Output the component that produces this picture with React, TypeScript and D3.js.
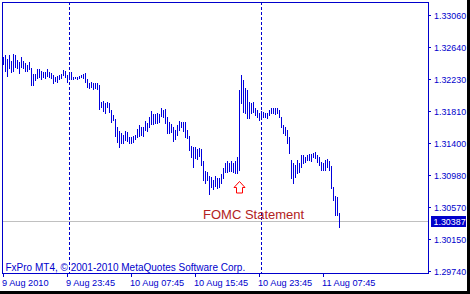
import React from "react";
import * as d3 from "d3";

// ---- data (EURUSD M15, 9 Aug 2010 15:45 -> 11 Aug 2010 09:45) ----
const highs: number[] = [
  1.32514, 1.3254, 1.32488, 1.3254, 1.32462, 1.32553, 1.3254, 1.32475, 1.32449, 1.32514,
  1.32462, 1.32436, 1.3241, 1.32449, 1.32371, 1.32293, 1.32293, 1.32358, 1.32358, 1.32332,
  1.32319, 1.32319, 1.32358, 1.32319, 1.32306, 1.3228, 1.32254, 1.32267, 1.3228, 1.32293,
  1.32345, 1.32332, 1.3228, 1.32306, 1.32319, 1.32254, 1.32254, 1.32254, 1.32267, 1.3228,
  1.32293, 1.32306, 1.32228, 1.32176, 1.32189, 1.32176, 1.32176, 1.32176, 1.3215, 1.31929,
  1.31942, 1.31916, 1.31929, 1.31916, 1.31825, 1.3176, 1.31708, 1.31604, 1.31552, 1.31526,
  1.315, 1.31552, 1.31539, 1.31474, 1.31474, 1.31487, 1.315, 1.31578, 1.3163, 1.31604,
  1.31604, 1.31682, 1.31656, 1.31734, 1.31812, 1.31773, 1.31773, 1.31786, 1.31773, 1.31851,
  1.31825, 1.31838, 1.31734, 1.31669, 1.31643, 1.31604, 1.31565, 1.3163, 1.31682, 1.31669,
  1.31669, 1.31669, 1.31565, 1.31487, 1.31357, 1.31344, 1.31344, 1.31318, 1.31331, 1.31318,
  1.31162, 1.31032, 1.31019, 1.30967, 1.30954, 1.30915, 1.30967, 1.30941, 1.30941, 1.30993,
  1.31071, 1.31136, 1.31162, 1.31136, 1.31162, 1.31136, 1.31162, 1.31214, 1.32085, 1.3228,
  1.32215, 1.32111, 1.32085, 1.31929, 1.31916, 1.31929, 1.31851, 1.31825, 1.31786, 1.31812,
  1.31799, 1.31786, 1.31786, 1.31825, 1.31851, 1.31851, 1.31851, 1.31851, 1.31825, 1.31734,
  1.3163, 1.31604, 1.31565, 1.31474, 1.31175, 1.31136, 1.3111, 1.31175, 1.31136, 1.3124,
  1.3124, 1.31214, 1.3124, 1.31253, 1.31253, 1.31266, 1.31279, 1.3124, 1.31214, 1.31149,
  1.31136, 1.31175, 1.31188, 1.31162, 1.31097, 1.30824, 1.30707, 1.30694, 1.30486,
];
const lows: number[] = [
  1.32423, 1.32332, 1.32267, 1.32371, 1.32319, 1.32332, 1.32384, 1.32371, 1.32306, 1.32384,
  1.32371, 1.32332, 1.32332, 1.32358, 1.3215, 1.3215, 1.32215, 1.32241, 1.32254, 1.32228,
  1.32254, 1.32241, 1.32267, 1.32254, 1.32241, 1.32176, 1.32202, 1.32189, 1.32228, 1.32241,
  1.3228, 1.32254, 1.32189, 1.32228, 1.32228, 1.32228, 1.32241, 1.32228, 1.32241, 1.32254,
  1.32241, 1.32189, 1.32124, 1.32111, 1.32124, 1.32098, 1.32111, 1.32098, 1.31838, 1.31864,
  1.31812, 1.31786, 1.31864, 1.31799, 1.31669, 1.31695, 1.31487, 1.31409, 1.31344, 1.31396,
  1.31396, 1.31435, 1.31422, 1.31396, 1.31396, 1.31409, 1.31448, 1.31474, 1.31487, 1.315,
  1.31487, 1.31565, 1.31552, 1.31604, 1.31643, 1.31643, 1.31656, 1.31656, 1.31669, 1.31747,
  1.31734, 1.31656, 1.31526, 1.31526, 1.31539, 1.31422, 1.31448, 1.315, 1.31565, 1.31604,
  1.31552, 1.31474, 1.31461, 1.31305, 1.31214, 1.31084, 1.31201, 1.31188, 1.31227, 1.3111,
  1.30915, 1.30876, 1.30915, 1.30733, 1.30824, 1.30798, 1.30837, 1.30811, 1.30824, 1.30876,
  1.30941, 1.31019, 1.31019, 1.31032, 1.31032, 1.31019, 1.31006, 1.31006, 1.31045, 1.31916,
  1.31799, 1.31786, 1.31721, 1.31721, 1.31786, 1.31799, 1.3176, 1.31734, 1.31695, 1.31734,
  1.31734, 1.31734, 1.31721, 1.3176, 1.31786, 1.31786, 1.31773, 1.31786, 1.31734, 1.31604,
  1.31526, 1.315, 1.31396, 1.31266, 1.30941, 1.30876, 1.30954, 1.31006, 1.31019, 1.31084,
  1.31136, 1.31149, 1.31175, 1.31175, 1.31162, 1.31214, 1.31201, 1.31149, 1.3111, 1.31045,
  1.31045, 1.31045, 1.31084, 1.31045, 1.30811, 1.30655, 1.3046, 1.3046, 1.30304,
];
const priceTicks: number[] = [1.3306, 1.3264, 1.3223, 1.3181, 1.314, 1.3098, 1.3057, 1.3015, 1.2974];
const priceTickLabels: string[] = ["1.33060", "1.32640", "1.32230", "1.31810", "1.31400", "1.30980", "1.30570", "1.30150", "1.29740"];
const timeTickIndex: number[] = [0, 32, 64, 96, 128, 160];
const timeTickLabels: string[] = ["9 Aug 2010", "9 Aug 23:45", "10 Aug 07:45", "10 Aug 15:45", "10 Aug 23:45", "11 Aug 07:45"];
const separatorIndex: number[] = [33, 129];
const lastPrice = 1.30387;
const lastPriceLabel = "1.30387";
const eventIndex = 118;
const eventArrowPrice = 1.30903;
const eventLabel = "FOMC Statement";
const eventLabelIndex = 100;
const eventLabelPrice = 1.30408;
const copyright = "FxPro MT4, © 2001-2010 MetaQuotes Software Corp.";

const BLUE = "#0000CC";
const BAR_BLUE = "#0000DD";
const FONT = "'Liberation Sans', Arial, sans-serif";

export default function App() {
  const W = 470, H = 294;
  const left = 2, right = 428, top = 2, bottom = 273;
  const x = d3.scaleLinear().domain([0, highs.length - 1]).range([3, 3 + 2 * (highs.length - 1)]);
  const y = d3.scaleLinear().domain([1.2974, 1.3306]).range([270.7, 15]);
  const px = (i: number) => Math.round(x(i)) + 0.5;

  const ax = Math.round(x(eventIndex)) + 0.5;
  const ay = Math.round(y(eventArrowPrice)) + 0.5;
  const arrow = d3.path();
  arrow.moveTo(ax, ay);
  arrow.lineTo(ax + 5.5, ay + 6);
  arrow.lineTo(ax + 3, ay + 6);
  arrow.lineTo(ax + 3, ay + 11.5);
  arrow.lineTo(ax - 3, ay + 11.5);
  arrow.lineTo(ax - 3, ay + 6);
  arrow.lineTo(ax - 5.5, ay + 6);
  arrow.closePath();

  const ly = Math.round(y(lastPrice)) + 0.5;

  return (
    <div style={{ position: "absolute", left: 0, top: 0 }}>
      <style>{"body{margin:0}"}</style>
      <svg width={W} height={H} style={{ display: "block" }}>
        <rect x={0} y={0} width={W} height={H} fill="#ffffff" />
        <rect x={467} y={0} width={3} height={H} fill="#000" />
        <rect x={0} y={291} width={W} height={3} fill="#000" />

        {/* last price line */}
        <line x1={left} x2={right} y1={ly} y2={ly} stroke="#C0C0C0" strokeWidth={1} shapeRendering="crispEdges" />

        {/* separators */}
        {separatorIndex.map((s) => (
          <line key={"s" + s} x1={px(s)} x2={px(s)} y1={top} y2={bottom} stroke={BLUE} strokeWidth={1} strokeDasharray="3,2" shapeRendering="crispEdges" />
        ))}

        {/* bars */}
        {highs.map((h, i) => (
          <line key={i} x1={px(i)} x2={px(i)} y1={Math.round(y(h))} y2={Math.round(y(lows[i])) + 1} stroke={BAR_BLUE} strokeWidth={1} shapeRendering="crispEdges" />
        ))}

        {/* frame */}
        <rect x={left + 0.5} y={top + 0.5} width={right - left} height={bottom - top} fill="none" stroke={BLUE} strokeWidth={1} shapeRendering="crispEdges" />

        {/* price axis */}
        {priceTicks.map((p, i) => {
          const yy = Math.round(y(p)) + 0.5;
          return (
            <g key={"p" + i}>
              <line x1={right} x2={right + 3} y1={yy} y2={yy} stroke={BLUE} shapeRendering="crispEdges" />
              <text x={434} y={yy + 3.3} fontFamily={FONT} fontSize={8.9} fill={BLUE}>{priceTickLabels[i]}</text>
            </g>
          );
        })}
        <rect x={431} y={Math.round(y(lastPrice)) - 5} width={35} height={11} fill={BLUE} />
        <text x={433.5} y={Math.round(y(lastPrice)) + 3.8} fontFamily={FONT} fontSize={8.9} fill="#ffffff">{lastPriceLabel}</text>

        {/* time axis */}
        {timeTickIndex.map((t, i) => (
          <g key={"t" + i}>
            <line x1={px(t)} x2={px(t)} y1={bottom} y2={bottom + 4} stroke={BLUE} shapeRendering="crispEdges" />
            <text x={px(t) - 1.5} y={286} fontFamily={FONT} fontSize={9.2} fill={BLUE}>{timeTickLabels[i]}</text>
          </g>
        ))}

        <text x={5.5} y={271} fontFamily={FONT} fontSize={10} fill={BLUE}>{copyright}</text>

        {/* event */}
        <path d={arrow.toString()} fill="#ffffff" stroke="#FF0000" strokeWidth={1} />
        <text x={x(eventLabelIndex)} y={y(eventLabelPrice)} fontFamily={FONT} fontSize={13} fill="#B22222">{eventLabel}</text>
      </svg>
    </div>
  );
}
